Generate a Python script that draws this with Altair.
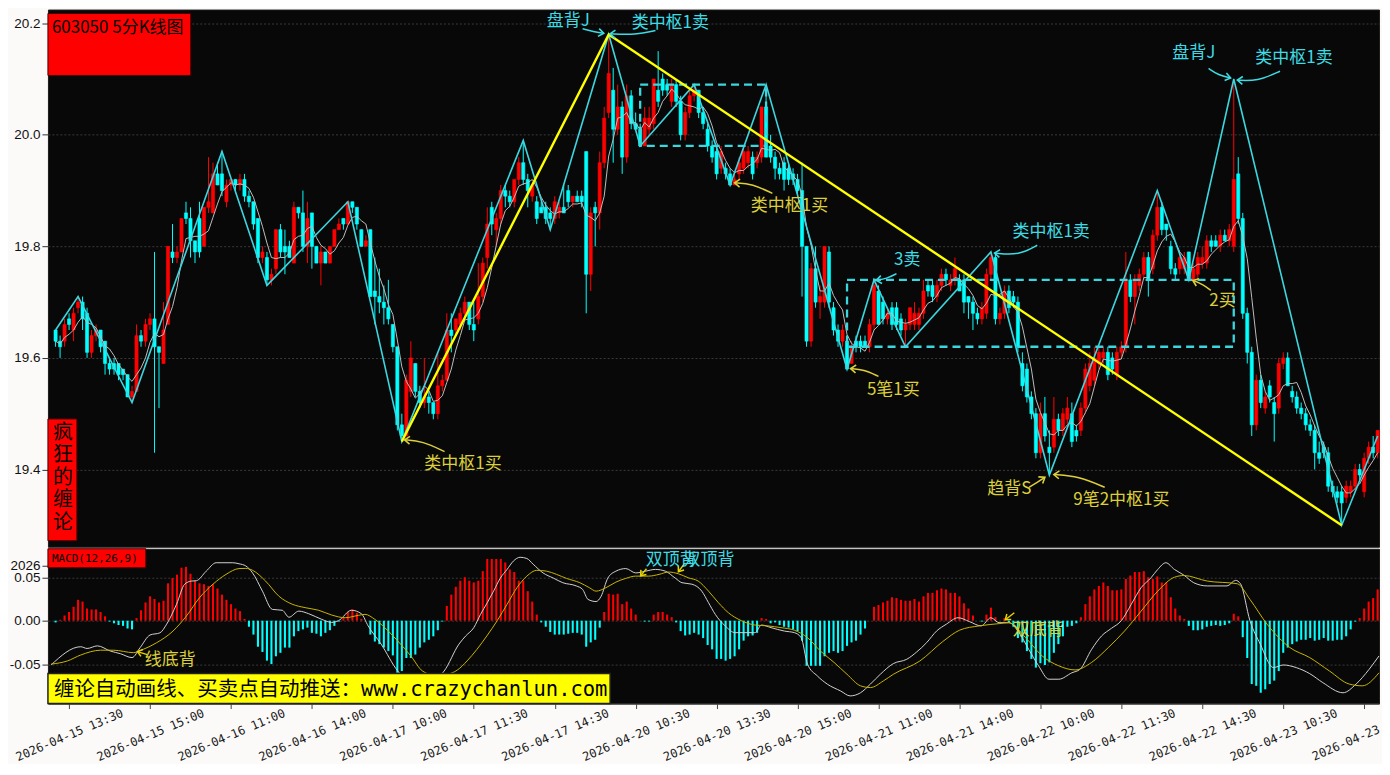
import math
import altair as alt
import pandas as pd

# ---------------- data ----------------
OPEN = [
    19.65,19.63,19.63,19.67,19.65,19.69,19.70,19.68,19.61,19.64,
    19.65,19.63,19.59,19.59,19.59,19.58,19.57,19.53,19.54,19.64,
    19.63,19.66,19.67,19.62,19.59,19.66,19.79,19.78,19.79,19.86,
    19.85,19.81,19.85,19.80,19.87,19.86,19.93,19.93,19.88,19.91,
    19.92,19.91,19.92,19.89,19.88,19.85,19.78,19.78,19.74,19.76,
    19.83,19.80,19.80,19.77,19.87,19.86,19.80,19.86,19.80,19.77,
    19.79,19.77,19.80,19.83,19.85,19.84,19.88,19.87,19.83,19.80,
    19.83,19.72,19.71,19.70,19.69,19.66,19.62,19.48,19.46,19.54,
    19.59,19.54,19.52,19.53,19.52,19.50,19.55,19.56,19.65,19.65,
    19.66,19.68,19.70,19.66,19.67,19.71,19.78,19.87,19.83,19.85,
    19.90,19.89,19.88,19.92,19.95,19.92,19.89,19.88,19.87,19.87,
    19.86,19.85,19.86,19.87,19.90,19.88,19.89,19.89,19.97,19.75,
    19.87,19.86,19.95,20.04,20.08,20.01,20.05,19.96,20.07,20.02,
    20.01,19.98,20.01,20.02,20.08,20.10,20.09,20.06,20.09,20.06,
    20.00,20.04,20.07,20.08,20.04,20.01,19.98,19.97,19.94,19.94,
    19.93,19.91,19.93,19.94,19.95,19.96,19.95,19.96,20.05,19.98,
    19.96,19.94,19.95,19.94,19.93,19.92,19.90,19.80,19.63,19.76,
    19.70,19.70,19.79,19.69,19.65,19.63,19.63,19.59,19.63,19.63,
    19.63,19.62,19.66,19.72,19.70,19.67,19.69,19.69,19.67,19.65,
    19.66,19.66,19.66,19.68,19.73,19.73,19.71,19.73,19.75,19.73,
    19.74,19.74,19.74,19.71,19.70,19.68,19.67,19.68,19.75,19.78,
    19.67,19.68,19.72,19.71,19.70,19.59,19.58,19.53,19.50,19.43,
    19.50,19.44,19.44,19.49,19.47,19.49,19.50,19.47,19.47,19.51,
    19.55,19.56,19.59,19.60,19.61,19.60,19.57,19.61,19.62,19.74,
    19.71,19.73,19.75,19.78,19.76,19.82,19.87,19.84,19.80,19.76,
    19.76,19.76,19.79,19.74,19.75,19.77,19.77,19.81,19.81,19.80,
    19.82,19.81,19.80,19.93,19.85,19.68,19.61,19.48,19.56,19.51,
    19.55,19.52,19.51,19.59,19.60,19.54,19.53,19.51,19.50,19.48,
    19.47,19.43,19.44,19.43,19.37,19.36,19.36,19.35,19.36,19.37,
    19.40,19.36,19.42,19.44,19.43,
]
HIGH = [
    19.65,19.64,19.67,19.68,19.69,19.71,19.71,19.69,19.65,19.66,
    19.65,19.63,19.60,19.60,19.59,19.58,19.57,19.55,19.66,19.65,
    19.67,19.68,19.79,19.62,19.70,19.80,19.84,19.80,19.85,19.88,
    19.87,19.81,19.88,19.87,19.96,19.95,19.95,19.97,19.92,19.92,
    19.92,19.93,19.93,19.90,19.88,19.85,19.80,19.79,19.76,19.83,
    19.84,19.83,19.81,19.88,19.87,19.90,19.88,19.86,19.80,19.80,
    19.79,19.80,19.83,19.85,19.85,19.88,19.88,19.87,19.83,19.82,
    19.83,19.78,19.76,19.73,19.74,19.66,19.62,19.50,19.57,19.63,
    19.59,19.55,19.60,19.54,19.52,19.61,19.57,19.68,19.68,19.67,
    19.69,19.71,19.70,19.70,19.77,19.78,19.87,19.88,19.86,19.91,
    19.91,19.90,19.92,19.96,19.99,19.93,19.91,19.89,19.88,19.88,
    19.87,19.89,19.88,19.91,19.91,19.89,19.90,19.90,19.97,19.87,
    19.88,19.97,20.05,20.18,20.12,20.09,20.06,20.09,20.08,20.04,
    20.02,20.05,20.05,20.10,20.15,20.11,20.10,20.10,20.10,20.07,
    20.05,20.08,20.09,20.08,20.05,20.02,19.99,19.98,19.98,19.95,
    19.94,19.93,19.96,19.98,19.98,19.97,19.97,20.05,20.09,20.00,
    19.97,19.95,19.96,19.95,19.94,19.93,19.95,19.80,19.77,19.80,
    19.73,19.80,19.80,19.70,19.66,19.66,19.64,19.63,19.64,19.64,
    19.64,19.67,19.74,19.73,19.71,19.69,19.70,19.70,19.68,19.67,
    19.69,19.70,19.69,19.74,19.74,19.74,19.74,19.76,19.76,19.75,
    19.78,19.75,19.75,19.71,19.71,19.69,19.70,19.76,19.79,19.79,
    19.69,19.73,19.73,19.72,19.71,19.61,19.59,19.54,19.51,19.52,
    19.53,19.47,19.53,19.50,19.51,19.53,19.52,19.48,19.52,19.59,
    19.61,19.62,19.62,19.62,19.62,19.61,19.62,19.63,19.79,19.75,
    19.75,19.76,19.79,19.79,19.83,19.90,19.88,19.84,19.81,19.77,
    19.79,19.79,19.79,19.77,19.79,19.80,19.82,19.82,19.82,19.83,
    19.83,19.84,20.10,19.96,19.86,19.69,19.62,19.57,19.57,19.54,
    19.56,19.53,19.60,19.61,19.61,19.55,19.54,19.52,19.51,19.49,
    19.48,19.45,19.45,19.44,19.38,19.37,19.37,19.38,19.38,19.41,
    19.41,19.43,19.45,19.46,19.47,
]
LOW = [
    19.62,19.60,19.62,19.65,19.63,19.68,19.65,19.60,19.60,19.63,
    19.61,19.57,19.57,19.57,19.56,19.56,19.53,19.52,19.54,19.62,
    19.62,19.65,19.43,19.51,19.59,19.66,19.77,19.77,19.79,19.84,
    19.78,19.77,19.78,19.80,19.86,19.86,19.91,19.89,19.87,19.90,
    19.90,19.90,19.88,19.87,19.83,19.77,19.77,19.73,19.73,19.75,
    19.78,19.75,19.78,19.77,19.85,19.79,19.77,19.76,19.77,19.73,
    19.77,19.77,19.80,19.83,19.83,19.84,19.86,19.83,19.80,19.80,
    19.71,19.66,19.68,19.66,19.66,19.61,19.47,19.45,19.46,19.53,
    19.53,19.51,19.51,19.50,19.49,19.49,19.54,19.56,19.61,19.64,
    19.65,19.67,19.65,19.63,19.66,19.70,19.76,19.82,19.80,19.84,
    19.87,19.87,19.87,19.91,19.91,19.87,19.88,19.84,19.86,19.84,
    19.83,19.84,19.85,19.86,19.87,19.87,19.88,19.87,19.68,19.72,
    19.80,19.83,19.94,20.03,19.95,20.00,19.93,19.95,20.01,20.01,
    19.98,19.98,20.00,20.01,20.05,20.07,20.07,20.05,20.05,19.99,
    19.99,20.03,20.06,20.03,20.01,19.97,19.95,19.92,19.93,19.92,
    19.91,19.91,19.92,19.93,19.94,19.92,19.94,19.95,19.96,19.95,
    19.92,19.92,19.90,19.91,19.91,19.89,19.71,19.62,19.62,19.69,
    19.67,19.69,19.69,19.64,19.62,19.62,19.58,19.59,19.61,19.61,
    19.62,19.61,19.65,19.66,19.66,19.66,19.65,19.65,19.64,19.62,
    19.65,19.65,19.65,19.67,19.71,19.70,19.70,19.72,19.73,19.72,
    19.73,19.72,19.68,19.67,19.65,19.66,19.66,19.67,19.74,19.66,
    19.66,19.67,19.68,19.69,19.61,19.54,19.52,19.49,19.42,19.42,
    19.45,19.39,19.43,19.46,19.46,19.48,19.44,19.45,19.46,19.50,
    19.54,19.55,19.58,19.59,19.56,19.57,19.56,19.60,19.61,19.70,
    19.66,19.72,19.74,19.71,19.75,19.81,19.82,19.81,19.75,19.74,
    19.75,19.75,19.74,19.74,19.74,19.76,19.76,19.79,19.80,19.79,
    19.81,19.80,19.79,19.84,19.67,19.59,19.46,19.47,19.51,19.50,
    19.52,19.45,19.50,19.58,19.55,19.52,19.50,19.49,19.47,19.46,
    19.40,19.41,19.42,19.36,19.35,19.34,19.30,19.34,19.35,19.36,
    19.38,19.35,19.41,19.42,19.42,
]
CLOSE = [
    19.63,19.62,19.66,19.66,19.68,19.70,19.67,19.61,19.64,19.65,
    19.62,19.59,19.58,19.58,19.57,19.57,19.53,19.54,19.64,19.63,
    19.66,19.67,19.62,19.61,19.65,19.80,19.78,19.79,19.85,19.85,
    19.81,19.79,19.79,19.87,19.88,19.93,19.91,19.90,19.91,19.92,
    19.91,19.92,19.89,19.88,19.84,19.78,19.79,19.74,19.75,19.83,
    19.79,19.79,19.78,19.87,19.86,19.80,19.85,19.80,19.77,19.79,
    19.77,19.80,19.83,19.84,19.84,19.88,19.87,19.84,19.80,19.81,
    19.71,19.71,19.70,19.69,19.67,19.62,19.48,19.46,19.56,19.60,
    19.54,19.52,19.53,19.52,19.50,19.55,19.56,19.65,19.64,19.67,
    19.68,19.70,19.66,19.65,19.71,19.77,19.84,19.84,19.85,19.90,
    19.89,19.88,19.92,19.95,19.92,19.90,19.91,19.85,19.86,19.85,
    19.85,19.88,19.87,19.86,19.88,19.89,19.88,19.88,19.75,19.86,
    19.86,19.95,20.03,20.11,20.01,20.05,19.96,20.07,20.02,20.01,
    19.98,20.03,20.03,20.10,20.06,20.08,20.08,20.09,20.06,20.00,
    20.04,20.07,20.08,20.04,20.02,19.98,19.96,19.93,19.97,19.93,
    19.91,19.92,19.95,19.97,19.97,19.93,19.96,20.05,19.96,19.96,
    19.94,19.93,19.92,19.92,19.92,19.90,19.80,19.63,19.76,19.70,
    19.71,19.80,19.70,19.65,19.63,19.65,19.58,19.62,19.62,19.62,
    19.62,19.66,19.73,19.66,19.67,19.68,19.66,19.66,19.65,19.66,
    19.69,19.68,19.68,19.72,19.72,19.71,19.73,19.75,19.74,19.74,
    19.76,19.72,19.70,19.70,19.68,19.67,19.69,19.75,19.78,19.67,
    19.68,19.72,19.69,19.70,19.62,19.55,19.53,19.50,19.43,19.50,
    19.46,19.43,19.49,19.47,19.50,19.51,19.45,19.46,19.51,19.58,
    19.59,19.60,19.61,19.61,19.57,19.58,19.61,19.62,19.74,19.71,
    19.74,19.75,19.78,19.74,19.82,19.87,19.83,19.83,19.76,19.75,
    19.78,19.78,19.74,19.76,19.78,19.78,19.81,19.80,19.80,19.82,
    19.81,19.83,19.92,19.85,19.68,19.61,19.48,19.56,19.52,19.53,
    19.53,19.50,19.59,19.60,19.55,19.53,19.51,19.50,19.48,19.47,
    19.43,19.42,19.43,19.37,19.36,19.35,19.34,19.37,19.37,19.40,
    19.39,19.42,19.44,19.43,19.47,
]
MACD_HIST = [
    -0.002,0.001,0.006,0.010,0.016,0.024,0.022,0.014,0.013,0.013,
    0.010,0.005,-0.001,-0.003,-0.005,-0.006,-0.009,-0.010,0.003,0.012,
    0.021,0.028,0.025,0.021,0.023,0.043,0.049,0.053,0.061,0.062,
    0.054,0.046,0.043,0.042,0.040,0.042,0.037,0.030,0.024,0.019,
    0.014,0.011,0.002,-0.007,-0.016,-0.030,-0.036,-0.046,-0.050,-0.041,
    -0.037,-0.031,-0.031,-0.018,-0.012,-0.010,-0.008,-0.014,-0.015,-0.018,
    -0.014,-0.011,-0.006,-0.001,0.003,0.010,0.013,0.009,0.002,0.000,
    -0.016,-0.024,-0.027,-0.031,-0.035,-0.040,-0.060,-0.058,-0.043,-0.043,
    -0.039,-0.031,-0.025,-0.022,-0.018,-0.011,-0.001,0.017,0.030,0.039,
    0.046,0.050,0.046,0.044,0.046,0.057,0.071,0.071,0.071,0.071,
    0.067,0.059,0.056,0.046,0.046,0.034,0.022,0.007,-0.002,-0.007,
    -0.013,-0.016,-0.016,-0.016,-0.015,-0.014,-0.014,-0.016,-0.030,-0.025,
    -0.022,-0.008,0.010,0.031,0.030,0.031,0.019,0.022,0.014,0.007,
    0.000,-0.001,-0.001,0.007,0.010,0.010,0.007,0.004,-0.002,-0.012,
    -0.017,-0.016,-0.014,-0.016,-0.020,-0.028,-0.033,-0.044,-0.044,-0.046,
    -0.044,-0.041,-0.033,-0.023,-0.018,-0.017,-0.014,0.003,0.002,-0.003,
    -0.002,-0.005,-0.007,-0.008,-0.010,-0.012,-0.023,-0.052,-0.052,-0.052,
    -0.052,-0.041,-0.037,-0.035,-0.037,-0.035,-0.029,-0.025,-0.023,-0.016,
    -0.009,0.000,0.016,0.018,0.021,0.023,0.027,0.026,0.024,0.023,
    0.023,0.025,0.022,0.028,0.032,0.032,0.035,0.037,0.036,0.032,
    0.032,0.028,0.020,0.014,0.006,0.000,-0.001,0.007,0.015,0.004,
    0.000,0.003,-0.002,-0.007,-0.020,-0.025,-0.035,-0.044,-0.054,-0.049,
    -0.051,-0.048,-0.037,-0.027,-0.018,-0.007,-0.006,-0.003,0.004,0.019,
    0.028,0.036,0.040,0.044,0.040,0.035,0.035,0.036,0.048,0.052,
    0.056,0.056,0.057,0.050,0.048,0.051,0.044,0.044,0.027,0.014,
    0.006,0.002,-0.006,-0.011,-0.011,-0.010,-0.007,-0.006,-0.005,-0.006,
    -0.005,-0.003,0.008,0.005,-0.019,-0.043,-0.073,-0.075,-0.083,-0.079,
    -0.073,-0.069,-0.058,-0.037,-0.031,-0.027,-0.024,-0.022,-0.022,-0.020,
    -0.023,-0.022,-0.020,-0.023,-0.023,-0.022,-0.022,-0.018,-0.010,-0.001,
    0.003,0.014,0.022,0.026,0.036,
]
DIF_X = [-1.0,5.6,7.0,9.3,12.2,14.4,17.0,18.8,21.0,23.2,24.7,26.9,28.7,30.2,31.3,33.5,35.7,39.4,40.8,42.3,
         43.8,46.0,48.2,50.4,51.9,54.1,56.3,59.2,61.4,62.9,65.8,68.0,69.5,72.4,76.1,79.5,83.0,86.4,89.7,91.2,
         93.0,94.5,96.0,97.4,98.9,100.4,101.8,103.3,104.8,106.2,108.4,110.7,112.8,115.8,117.2,118.4,120.2,121.3,122.8,124.6,
         126.8,129.0,131.2,133.4,135.6,137.8,139.3,141.5,143.7,145.2,146.7,148.9,151.1,153.3,155.5,157.0,159.1,162.1,164.3,165.8,
         167.2,169.4,171.6,174.6,176.7,179.0,181.2,183.4,186.3,189.3,191.5,193.7,195.9,198.1,200.7,203.2,205.8,208.0,209.8,212.0,
         214.2,216.4,218.6,220.9,223.1,226.0,227.8,230.4,232.6,234.8,237.0,239.2,241.4,243.6,245.1,246.9,248.8,250.9,253.1,256.1,
         260.5,262.4,263.5,265.6,267.9,270.8,273.0,275.9,278.9,281.8,286.3,289.2,292.1,294.3]
DIF_Y = [-0.051,-0.030,-0.032,-0.029,-0.035,-0.038,-0.0425,-0.031,-0.0165,-0.014,-0.004,0.019,0.042,0.0456,0.046,0.057,0.0667,0.0667,0.0655,0.063,
         0.055,0.034,0.013,0.012,0.004,0.011,0.008,0.0015,-0.002,0.0,0.012,0.008,-0.006,-0.027,-0.058,-0.072,-0.071,-0.058,-0.027,-0.0176,
         -0.008,0.0073,0.0207,0.034,0.049,0.059,0.0686,0.073,0.0716,0.065,0.055,0.049,0.0437,0.040,0.036,0.0245,0.022,0.028,0.049,0.057,
         0.060,0.055,0.057,0.059,0.057,0.049,0.0437,0.042,0.034,0.0207,0.0073,-0.006,-0.0138,-0.0138,-0.0138,-0.005,-0.008,-0.012,-0.0138,-0.0195,
         -0.050,-0.0636,-0.073,-0.081,-0.0866,-0.083,-0.073,-0.0617,-0.0494,-0.0444,-0.036,-0.0253,-0.012,-0.004,0.0034,-0.001,-0.006,0.0034,-0.0023,-0.0023,
         -0.0134,-0.033,-0.052,-0.0674,-0.0674,-0.060,-0.056,-0.033,-0.0176,-0.0088,0.0,0.0188,0.038,0.0494,0.059,0.0667,0.059,0.0525,0.0437,0.040,
         0.040,0.0464,0.0425,0.0,-0.027,-0.054,-0.051,-0.054,-0.061,-0.0713,-0.083,-0.073,-0.056,-0.0406]
DEA_X = [-1.0,2.6,5.6,10.0,12.9,17.3,19.5,22.5,26.1,29.1,32.0,35.0,37.9,40.8,42.3,43.8,46.7,49.7,52.6,55.5,
         58.5,61.4,64.4,67.3,68.8,71.0,73.2,76.1,79.0,81.6,84.5,87.1,89.3,91.5,93.7,95.9,98.2,100.4,102.6,104.8,
         107.0,109.2,111.4,113.6,116.6,118.7,120.2,122.4,124.6,126.8,129.0,131.9,134.2,136.3,138.5,140.7,142.9,145.2,147.4,149.6,
         152.5,155.5,158.4,161.3,164.3,167.2,170.1,173.1,176.0,179.0,181.2,184.1,186.3,192.2,197.3,201.0,205.4,209.8,212.0,215.7,
         219.4,223.1,226.7,230.4,234.1,237.7,241.4,245.1,248.8,250.9,256.1,262.8,265.6,269.4,274.5,278.9,283.3,287.7,290.6,294.3]
DEA_Y = [-0.050,-0.0464,-0.0395,-0.034,-0.034,-0.0368,-0.033,-0.0253,-0.012,0.0054,0.0264,0.042,0.0533,0.060,0.0602,0.058,0.0456,0.028,0.019,0.015,
         0.012,0.0065,0.0034,0.0061,0.0073,0.0015,-0.008,-0.0234,-0.0406,-0.058,-0.063,-0.0617,-0.057,-0.0464,-0.033,-0.0176,0.0,0.0188,0.038,0.0513,
         0.058,0.057,0.0533,0.0487,0.0437,0.038,0.034,0.038,0.0444,0.0487,0.0513,0.0513,0.0533,0.056,0.054,0.0494,0.0456,0.034,0.0207,0.0092,
         0.0,-0.005,-0.006,-0.008,-0.011,-0.0195,-0.035,-0.048,-0.0617,-0.075,-0.077,-0.0693,-0.0617,-0.0464,-0.024,-0.011,-0.006,-0.0034,-0.0023,-0.0195,
         -0.0406,-0.052,-0.0567,-0.048,-0.031,-0.012,0.011,0.034,0.050,0.052,0.0456,0.0425,0.0245,-0.004,-0.031,-0.0425,-0.058,-0.073,-0.075,-0.060]

# strokes (bi), segment and pivot zones (bar index, price)
BI_X = [0,5,17,37,47,65,77,104,110,123,130,142,150,158,176,182,189,208,221,245,252,262,286,294]
BI_Y = [19.65,19.71,19.52,19.97,19.73,19.88,19.45,19.99,19.83,20.18,19.98,20.09,19.91,20.09,19.58,19.74,19.62,19.79,19.39,19.90,19.74,20.10,19.30,19.46]
SEG_X = [77,123,286]
SEG_Y = [19.45,20.18,19.30]
ZS_START = [130,176]
ZS_END = [158,262]
ZS_LOW = [19.98,19.62]
ZS_HIGH = [20.09,19.74]

TICK_INDEX = [3,21,39,57,75,93,111,129,147,165,183,201,219,237,255,273,291]
TICK_LABELS = ["2026-04-15 13:30","2026-04-15 15:00","2026-04-16 11:00","2026-04-16 14:00",
               "2026-04-17 10:00","2026-04-17 11:30","2026-04-17 14:30","2026-04-20 10:30",
               "2026-04-20 13:30","2026-04-20 15:00","2026-04-21 11:00","2026-04-21 14:00",
               "2026-04-22 10:00","2026-04-22 11:30","2026-04-22 14:30","2026-04-23 10:30",
               "2026-04-23 13:30"]

ANN_TEXT = ["盘背J","类中枢1卖","类中枢1买","类中枢1买","3卖","5笔1买","类中枢1卖","趋背S","9笔2中枢1买","2买","盘背J","类中枢1卖"]
ANN_X = [114.0,136.7,90.6,163.2,189.4,186.3,221.4,212.1,237.0,259.5,253.1,275.4]
ANN_Y = [20.2036,20.2010,19.4105,19.872,19.7754,19.542,19.8263,19.365,19.3456,19.7018,20.1474,20.1386]
ANN_KIND = ["sell","sell","buy","buy","sell","buy","sell","buy","buy","buy","sell","sell"]
ARROW_PATHS = [
    [(117.2,20.190),(119.6,20.185),(121.9,20.182)],
    [(133.4,20.187),(129.0,20.179),(123.3,20.181)],
    [(86.5,19.432),(81.6,19.451),(77.6,19.453)],
    [(159.4,19.895),(155.0,19.912),(151.0,19.914)],
    [(187.0,19.751),(184.8,19.742),(182.5,19.739)],
    [(183.0,19.567),(179.7,19.579),(176.8,19.581)],
    [(218.3,19.802),(214.3,19.784),(208.8,19.788)],
    [(216.5,19.368),(218.3,19.377),(220.0,19.386)],
    [(233.3,19.368),(227.5,19.388),(222.0,19.391)],
    [(256.9,19.721),(255.1,19.732),(252.9,19.739)],
    [(256.4,20.119),(258.6,20.107),(261.3,20.102)],
    [(272.3,20.114),(267.2,20.096),(262.8,20.098)],
]
MACD_ANN_TEXT = ["线底背","双顶背","双顶背","双底背"]
MACD_ANN_X = [25.5,136.9,145.3,218.5]
MACD_ANN_Y = [-0.0448,0.0701,0.0701,-0.0103]
MACD_ANN_KIND = ["buy","sell","sell","buy"]
MACD_ARROW_PATHS = [
    [(20.4,-0.039),(18.2,-0.0356)],
    [(131.4,0.0598),(130.1,0.0517)],
    [(139.8,0.0655),(138.5,0.0563)],
    [(213.2,0.0092),(211.2,0.0011)],
]

# ---------------- layout / style ----------------
X_DOMAIN = [-1.7, 294.3]
PRICE_DOMAIN = [19.2614, 20.2246]
MACD_DOMAIN = [-0.0954, 0.0828]
W, H1, H2 = 1333, 538, 155
CYAN = "#00ffff"
RED = "#ff0000"
BI_COLOR = "#3cd6df"
KIND_COLOR = {"sell": "#3ddbe3", "buy": "#dccf3a"}
ARROW_YELLOW = "#e8d400"
CJK = "Noto Sans CJK SC"
CHEVRON = "M-1,-0.75L0,0L-1,0.75"

N = len(CLOSE)
bars = pd.DataFrame({"i": list(range(N)), "open": OPEN, "high": HIGH,
                     "low": LOW, "close": CLOSE, "hist": MACD_HIST})

xs = alt.Scale(domain=X_DOMAIN, nice=False, zero=False)
ys = alt.Scale(domain=PRICE_DOMAIN, nice=False, zero=False)
ms = alt.Scale(domain=MACD_DOMAIN, nice=False, zero=False)
updown_scale = alt.Scale(domain=["up", "down"], range=[RED, CYAN])

PX_I = W / (X_DOMAIN[1] - X_DOMAIN[0])
PX_P = H1 / (PRICE_DOMAIN[1] - PRICE_DOMAIN[0])
PX_M = H2 / (MACD_DOMAIN[1] - MACD_DOMAIN[0])


def head_angle(p, q, py):
    return math.degrees(math.atan2(-(q[1] - p[1]) * py, (q[0] - p[0]) * PX_I)) % 360


def tx(field="i"):
    return alt.X(f"{field}:Q", scale=xs, axis=None, title=None)


def bx(field="i"):
    return alt.X(f"{field}:Q", scale=xs, title=None)


def py(field):
    return alt.Y(f"{field}:Q", scale=ys, title=None)


def my(field):
    return alt.Y(f"{field}:Q", scale=ms, title=None)


fixed_col = alt.Color("col:N", scale=None, legend=None)

price_axis = alt.Axis(values=[19.4, 19.6, 19.8, 20.0, 20.2], format=".1f",
                      labelFont="Liberation Sans", labelFontSize=13.5, labelColor="#111111",
                      tickColor="#333333", tickSize=6, labelPadding=2, domain=False,
                      gridColor="#3a3a3a", gridDash=[2, 2], gridWidth=1, labelOverlap=False,
                      minExtent=39, maxExtent=39, title=None)

# ---------------- price panel ----------------
cbase = alt.Chart(bars).transform_calculate(
    dir="datum.close > datum.open ? 'up' : 'down'",
    x1="datum.i - 0.35", x2="datum.i + 0.35")

wicks = cbase.mark_rule(strokeWidth=1).encode(
    x=tx(), y=alt.Y("low:Q", scale=ys, axis=price_axis, title=None), y2="high:Q",
    color=alt.Color("dir:N", scale=updown_scale, legend=None))
bodies = cbase.mark_rect(strokeWidth=0.6).encode(
    x=tx("x1"), x2="x2:Q", y=py("open"), y2="close:Q",
    color=alt.Color("dir:N", scale=updown_scale, legend=None),
    stroke=alt.Stroke("dir:N", scale=updown_scale, legend=None))
ma = alt.Chart(bars).transform_window(
    ma="mean(close)", frame=[-4, 0], sort=[alt.SortField("i")]
).mark_line(color="#bdbdbd", strokeWidth=1).encode(x=tx(), y=py("ma"))

bi = alt.Chart(pd.DataFrame({"i": BI_X, "p": BI_Y})).mark_line(
    color=BI_COLOR, strokeWidth=1.6).encode(x=tx(), y=py("p"))
zones = alt.Chart(pd.DataFrame({"a": ZS_START, "b": ZS_END, "lo": ZS_LOW, "hi": ZS_HIGH})).mark_rect(
    filled=False, color=BI_COLOR, strokeWidth=2.3, strokeDash=[8, 5]).encode(
    x=tx("a"), x2="b:Q", y=py("lo"), y2="hi:Q")
seg = alt.Chart(pd.DataFrame({"i": SEG_X, "p": SEG_Y})).mark_line(
    color="#ffff00", strokeWidth=2.4).encode(x=tx(), y=py("p"))

arrow_rows, head_rows = [], []
for k, (path, kind) in enumerate(zip(ARROW_PATHS, ANN_KIND)):
    for j, (ax, ay) in enumerate(path):
        arrow_rows.append({"id": k, "o": j, "i": ax, "p": ay, "col": KIND_COLOR[kind]})
    head_rows.append({"i": path[-1][0], "p": path[-1][1], "col": KIND_COLOR[kind],
                      "ang": head_angle(path[-2], path[-1], PX_P)})
arrows = alt.Chart(pd.DataFrame(arrow_rows)).mark_line(
    interpolate="basis", strokeWidth=1.5).encode(
    x=tx(), y=py("p"), detail="id:N", order="o:Q", color=fixed_col)
heads = alt.Chart(pd.DataFrame(head_rows)).mark_point(
    shape=CHEVRON, filled=False, size=110, strokeWidth=1.6, opacity=1).encode(
    x=tx(), y=py("p"), angle=alt.Angle("ang:Q", scale=None), color=fixed_col)
ann_df = pd.DataFrame({"t": ANN_TEXT, "i": ANN_X, "p": ANN_Y})
ann_df["col"] = [KIND_COLOR[k] for k in ANN_KIND]
ann = alt.Chart(ann_df).mark_text(font=CJK, fontSize=17).encode(
    x=tx(), y=py("p"), text="t:N", color=fixed_col)

one = pd.DataFrame({"k": [0]})
title_box = alt.Chart(one).mark_rect(color=RED, stroke="#4a0000", strokeWidth=1).encode(
    x=alt.value(0), x2=alt.value(143), y=alt.value(4), y2=alt.value(66))
title_txt = alt.Chart(one).mark_text(text="603050 5分K线图", font=CJK, fontSize=17,
                                     align="left", baseline="middle", color="#000000").encode(
    x=alt.value(4), y=alt.value(18))
side_box = alt.Chart(one).mark_rect(color=RED, stroke="#4a0000", strokeWidth=1).encode(
    x=alt.value(0), x2=alt.value(29), y=alt.value(410), y2=alt.value(532))
side_txt = alt.Chart(one).mark_text(text=["疯", "狂", "的", "缠", "论"], font=CJK, fontSize=20,
                                    lineHeight=22.5, align="center", baseline="top",
                                    color="#000000").encode(x=alt.value(15), y=alt.value(414))

top = alt.layer(wicks, bodies, ma, bi, zones, seg, arrows, heads, ann,
                title_box, title_txt, side_box, side_txt).properties(width=W, height=H1)

# ---------------- MACD panel ----------------
shown = TICK_LABELS[:-1] + [TICK_LABELS[-1][:10]]   # last label runs off the window in the original
last = TICK_INDEX[-1]
label_expr = ("[" + ",".join(f"'{s}'" for s in shown) + "][indexof(["
              + ",".join(str(v) for v in TICK_INDEX) + "], datum.value)]")
is_last = f"datum.value == {last}"
x_axis = alt.Axis(values=TICK_INDEX, labelExpr=label_expr, labelAngle=337,
                  labelAlign={"condition": {"test": is_last, "value": "left"}, "value": "center"},
                  labelOffset={"condition": {"test": is_last, "value": -52}, "value": 0},
                  labelPadding={"condition": {"test": is_last, "value": 48}, "value": 26},
                  labelBaseline="middle", labelFont="DejaVu Sans Mono",
                  labelFontSize=12, labelColor="#1a1a1a", tickColor="#444444", tickSize=5,
                  domainColor="#444444", grid=False, labelOverlap=False, labelFlush=False, title=None)
macd_axis = alt.Axis(values=[-0.05, 0.0, 0.05, 0.0632],
                     labelExpr="datum.value > 0.06 ? '2026' : replace(format(datum.value, '.2f'), '\u2212', '-')",
                     labelFont="Liberation Sans", labelFontSize=13.5, labelColor="#111111",
                     tickColor="#333333", tickSize=6, labelPadding=2, domain=False, labelOverlap=False,
                     gridColor={"condition": {"test": "datum.value > 0.06", "value": "transparent"},
                                "value": "#3a3a3a"},
                     gridDash=[2, 2], gridWidth=1, minExtent=39, maxExtent=39, title=None)

hist = alt.Chart(bars).transform_calculate(
    sgn="datum.hist > 0 ? 'up' : 'down'", zero="0",
    x1="datum.i - 0.23", x2="datum.i + 0.23").mark_rect().encode(
    x=alt.X("x1:Q", scale=xs, axis=x_axis, title=None), x2="x2:Q",
    y=alt.Y("zero:Q", scale=ms, axis=macd_axis, title=None), y2="hist:Q",
    color=alt.Color("sgn:N", scale=updown_scale, legend=None))
dif = alt.Chart(pd.DataFrame({"i": DIF_X, "v": DIF_Y})).mark_line(
    interpolate="monotone", color="#d0d0d0", strokeWidth=1).encode(x=bx(), y=my("v"))
dea = alt.Chart(pd.DataFrame({"i": DEA_X, "v": DEA_Y})).mark_line(
    interpolate="monotone", color="#c8b400", strokeWidth=1).encode(x=bx(), y=my("v"))

m_rows, m_heads = [], []
for k, path in enumerate(MACD_ARROW_PATHS):
    for j, (ax, ay) in enumerate(path):
        m_rows.append({"id": k, "o": j, "i": ax, "v": ay})
    m_heads.append({"i": path[-1][0], "v": path[-1][1], "ang": head_angle(path[-2], path[-1], PX_M)})
m_arrows = alt.Chart(pd.DataFrame(m_rows)).mark_line(color=ARROW_YELLOW, strokeWidth=1.4).encode(
    x=bx(), y=my("v"), detail="id:N", order="o:Q")
m_heads_ch = alt.Chart(pd.DataFrame(m_heads)).mark_point(
    shape=CHEVRON, filled=False, size=90, strokeWidth=1.5, color=ARROW_YELLOW, opacity=1).encode(
    x=bx(), y=my("v"), angle=alt.Angle("ang:Q", scale=None))
m_ann_df = pd.DataFrame({"t": MACD_ANN_TEXT, "i": MACD_ANN_X, "v": MACD_ANN_Y})
m_ann_df["col"] = [KIND_COLOR[k] for k in MACD_ANN_KIND]
m_ann = alt.Chart(m_ann_df).mark_text(font=CJK, fontSize=17).encode(
    x=bx(), y=my("v"), text="t:N", color=fixed_col)

macd_box = alt.Chart(one).mark_rect(color=RED, stroke="#4a0000", strokeWidth=1).encode(
    x=alt.value(0), x2=alt.value(98), y=alt.value(0), y2=alt.value(19))
macd_txt = alt.Chart(one).mark_text(text="MACD(12,26,9)", font="DejaVu Sans Mono", fontSize=11,
                                    align="left", baseline="middle", color="#000000").encode(
    x=alt.value(4), y=alt.value(10))
ad_box = alt.Chart(one).mark_rect(color="#ffff00", stroke="#222222", strokeWidth=1.5).encode(
    x=alt.value(0), x2=alt.value(563), y=alt.value(125), y2=alt.value(155))
ad_txt = alt.Chart(one).mark_text(text="缠论自动画线、买卖点自动推送：www.crazychanlun.com",
                                  font="DejaVu Sans Mono, Noto Sans CJK SC", fontSize=20.5,
                                  align="left", baseline="middle", color="#000000").encode(
    x=alt.value(6), y=alt.value(141))

bottom = alt.layer(hist, dif, dea, m_arrows, m_heads_ch, m_ann,
                   macd_box, macd_txt, ad_box, ad_txt).properties(width=W, height=H2)

chart = alt.vconcat(top, bottom, spacing=2, bounds="flush").properties(
    padding=0, background="#fcfaf9"
).configure_view(fill="#080808", stroke="#1c1c1c")

chart.save("out.html", embed_options={"renderer": "svg", "actions": False})
